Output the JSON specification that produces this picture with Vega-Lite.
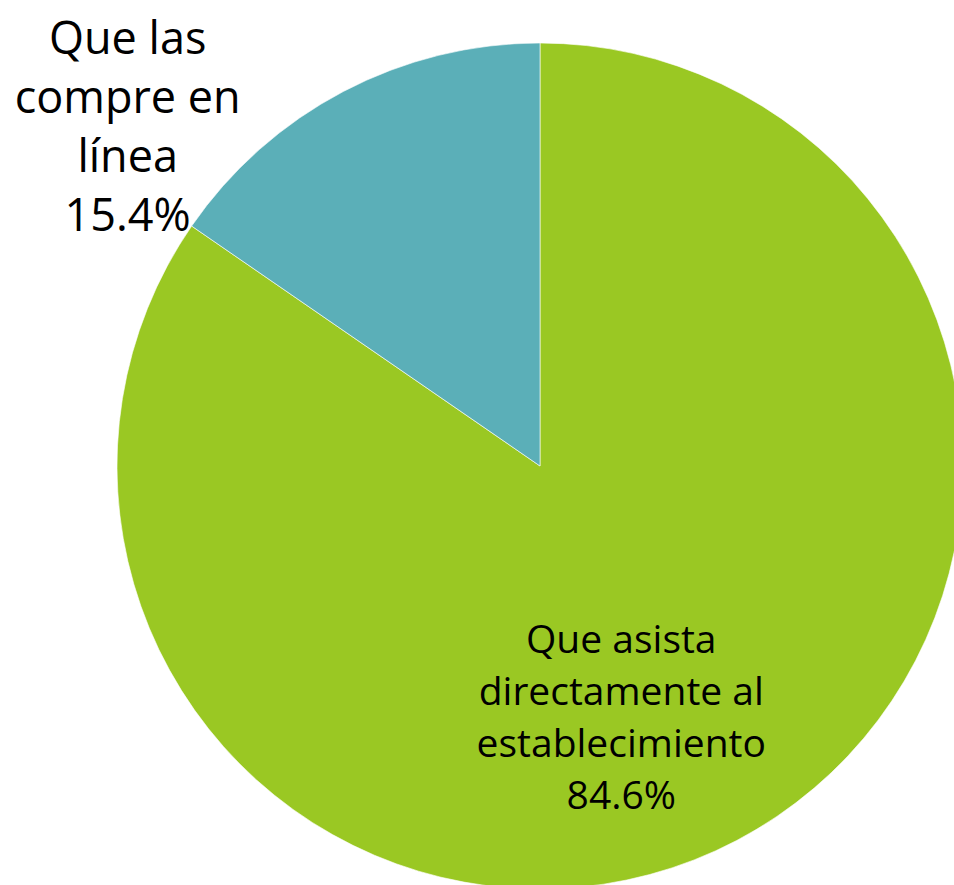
{
  "$schema": "https://vega.github.io/schema/vega-lite/v6.json",
  "width": 828,
  "height": 838,
  "padding": {"left": 126, "top": 47, "right": 0, "bottom": 0},
  "autosize": "none",
  "background": "white",
  "config": {"view": {"stroke": null}},
  "data": {
    "values": [
      {"categoria": "Que asista directamente al establecimiento", "pct": 84.6, "etiqueta": "Que asista\ndirectamente al\nestablecimiento\n84.6%"},
      {"categoria": "Que las compre en línea", "pct": 15.4, "etiqueta": "Que las\ncompre en\nlínea\n15.4%"}
    ]
  },
  "encoding": {
    "theta": {"field": "pct", "type": "quantitative", "stack": true},
    "order": {"field": "categoria", "sort": "ascending"}
  },
  "layer": [
    {
      "mark": {"type": "arc", "outerRadius": 423, "stroke": "white", "strokeWidth": 0.6},
      "encoding": {
        "color": {
          "field": "categoria",
          "type": "nominal",
          "scale": {
            "domain": ["Que asista directamente al establecimiento", "Que las compre en línea"],
            "range": ["#9AC823", "#5BAFB8"]
          },
          "legend": null
        }
      }
    },
    {
      "mark": {"type": "text", "radius": 450, "dx": -203, "dy": -28, "align": "center", "baseline": "middle", "font": "Open Sans", "fontSize": 45, "lineHeight": 59, "lineBreak": "\n", "color": "black"},
      "encoding": {
        "text": {"condition": {"test": "datum.categoria === 'Que las compre en línea'", "field": "etiqueta"}, "value": ""}
      }
    },
    {
      "mark": {"type": "text", "radius": 265, "dx": -42, "dy": -60, "align": "center", "baseline": "middle", "font": "Open Sans", "fontSize": 39, "lineHeight": 52, "lineBreak": "\n", "color": "black"},
      "encoding": {
        "text": {"condition": {"test": "datum.categoria === 'Que asista directamente al establecimiento'", "field": "etiqueta"}, "value": ""}
      }
    }
  ]
}
